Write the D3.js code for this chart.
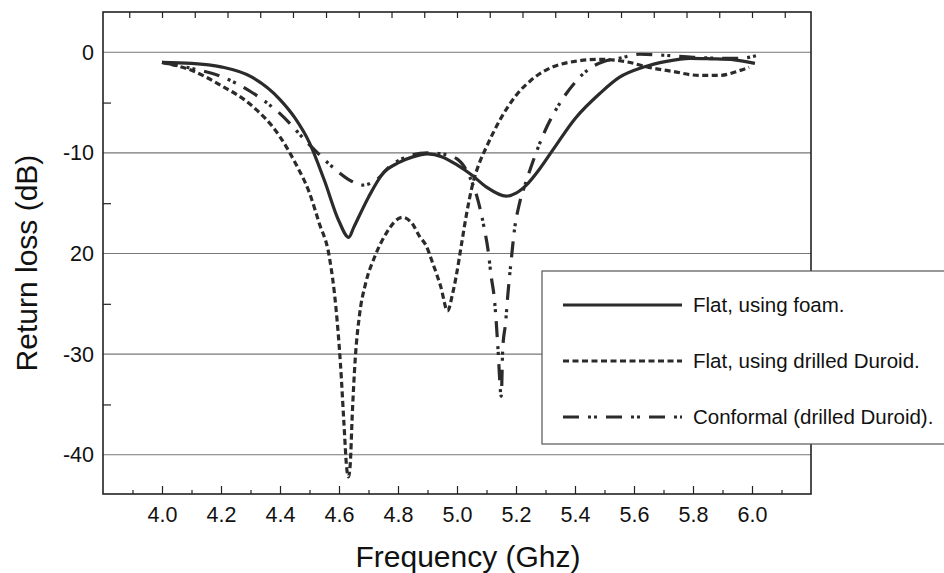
<!DOCTYPE html>
<html>
<head>
<meta charset="utf-8">
<script src="https://d3js.org/d3.v7.min.js"></script>
<style>
  body { margin: 0; background: white; }
  svg text { font-family: "Liberation Sans", Arial, sans-serif; fill: #111; }
</style>
</head>
<body>
<div id="chart"></div>
<script>
// Data (frequency in GHz, return loss in dB)
var foamFreq = [4.0, 4.1, 4.2, 4.3, 4.4, 4.45, 4.5, 4.55, 4.6, 4.633, 4.65, 4.7, 4.75, 4.8, 4.85, 4.9, 4.95, 5.0, 5.05, 5.1, 5.167, 5.2, 5.235, 5.28, 5.325, 5.4, 5.484, 5.55, 5.63, 5.71, 5.79, 5.86, 5.94, 6.01];
var foamLoss = [-1.0, -1.1, -1.45, -2.4, -4.7, -6.5, -9.0, -12.7, -16.8, -18.4, -17.4, -14.4, -12.0, -11.0, -10.4, -10.1, -10.4, -11.2, -12.2, -13.4, -14.3, -14.0, -13.2, -11.6, -9.7, -6.6, -4.1, -2.5, -1.5, -0.9, -0.6, -0.65, -0.75, -1.1];

var duroidFreq = [4.0, 4.1, 4.2, 4.3, 4.4, 4.45, 4.5, 4.533, 4.567, 4.59, 4.605, 4.617, 4.626, 4.632, 4.638, 4.645, 4.655, 4.67, 4.69, 4.72, 4.76, 4.815, 4.85, 4.873, 4.895, 4.917, 4.945, 4.968, 4.985, 4.997, 5.014, 5.031, 5.054, 5.076, 5.1, 5.15, 5.2, 5.25, 5.3, 5.4, 5.484, 5.575, 5.65, 5.73, 5.82, 5.89, 5.96, 5.99];
var duroidLoss = [-1.0, -1.8, -3.3, -5.2, -8.4, -10.9, -14.0, -17.0, -20.3, -25.5, -31.0, -37.0, -41.3, -42.2, -41.0, -36.0, -30.5, -26.0, -23.0, -20.4, -18.0, -16.4, -17.1, -18.3, -19.2, -20.9, -23.3, -25.7, -24.0, -22.3, -19.3, -16.3, -13.0, -11.0, -9.4, -6.5, -4.3, -2.8, -1.8, -0.9, -0.7, -0.95, -1.5, -1.9, -2.3, -2.3, -1.8, -1.5];

var conformalFreq = [4.0, 4.1, 4.2, 4.3, 4.4, 4.5, 4.57, 4.63, 4.68, 4.73, 4.77, 4.82, 4.9, 4.95, 5.0, 5.04, 5.07, 5.093, 5.105, 5.116, 5.127, 5.133, 5.139, 5.15, 5.155, 5.165, 5.172, 5.184, 5.195, 5.212, 5.235, 5.263, 5.3, 5.35, 5.4, 5.45, 5.5, 5.55, 5.62, 5.7, 5.8, 5.9, 5.96, 6.02];
var conformalLoss = [-1.0, -1.6, -2.4, -3.9, -6.1, -9.2, -11.2, -12.6, -13.2, -12.6, -11.4, -10.5, -10.0, -10.1, -10.6, -12.2, -14.6, -17.6, -19.6, -22.3, -24.6, -26.8, -29.5, -34.2, -29.5, -26.8, -24.2, -20.6, -17.6, -15.0, -12.8, -10.4, -7.7, -5.0, -3.0, -1.6, -0.9, -0.6, -0.2, -0.3, -0.5, -0.6, -0.6, -0.3];

var seriesNames = ["Flat, using foam.", "Flat, using drilled Duroid.", "Conformal (drilled Duroid)."];

// axis ticks
var xMajorTicks = [4.0, 4.2, 4.4, 4.6, 4.8, 5.0, 5.2, 5.4, 5.6, 5.8, 6.0];
var xMinorTicks = [3.9, 4.1, 4.3, 4.5, 4.7, 4.9, 5.1, 5.3, 5.5, 5.7, 5.9, 6.1];
var topTicks = [3.889, 4.0, 4.111, 4.222, 4.333, 4.444, 4.556, 4.667, 4.778, 4.889, 5.0, 5.111, 5.222, 5.333, 5.444, 5.556, 5.667, 5.778, 5.889, 6.0, 6.111];
var yMajorTicks = [0, -10, -20, -30, -40];
var yTickLabels = ["0", "-10", "20", "-30", "-40"];
var yMinorTicks = [-5, -15, -25, -35];

var width = 944;
var height = 573;
var plotLeft = 103, plotRight = 811, plotTop = 12, plotBottom = 494;

var xScale = d3.scaleLinear().domain([3.8, 6.2]).range([plotLeft, plotRight]);
var yScale = d3.scaleLinear().domain([4, -43.9]).range([plotTop, plotBottom]);

var svg = d3.select("#chart")
            .append("svg")
            .attr("width", width)
            .attr("height", height);

svg.append("rect")
   .attr("width", width)
   .attr("height", height)
   .style("fill", "white");

// horizontal grid lines
svg.append("g")
   .selectAll("line")
   .data(yMajorTicks)
   .enter()
     .append("line")
     .attr("x1", plotLeft)
     .attr("x2", plotRight)
     .attr("y1", function(d) { return yScale(d); })
     .attr("y2", function(d) { return yScale(d); })
     .style("stroke", "#777")
     .style("stroke-width", 1.2);

// bottom axis: major ticks with labels, minor ticks, pointing inward
var bottomAxis = d3.axisBottom(xScale)
                   .tickValues(xMajorTicks)
                   .tickFormat(d3.format(".1f"))
                   .tickSizeInner(-8)
                   .tickSizeOuter(0);
var bottomGroup = svg.append("g")
                     .attr("transform", "translate(0," + plotBottom + ")")
                     .call(bottomAxis);
bottomGroup.select(".domain").remove();
bottomGroup.selectAll("text").style("font-size", "21.5px").attr("y", 13).attr("dy", "0.71em");

var minorAxis = d3.axisBottom(xScale)
                  .tickValues(xMinorTicks)
                  .tickFormat("")
                  .tickSizeInner(-4)
                  .tickSizeOuter(0);
var minorGroup = svg.append("g")
                    .attr("transform", "translate(0," + plotBottom + ")")
                    .call(minorAxis);
minorGroup.select(".domain").remove();

// top axis ticks
var topAxis = d3.axisTop(xScale)
                .tickValues(topTicks)
                .tickFormat("")
                .tickSizeInner(-6)
                .tickSizeOuter(0);
var topGroup = svg.append("g")
                  .attr("transform", "translate(0," + plotTop + ")")
                  .call(topAxis);
topGroup.select(".domain").remove();

// left axis
var leftAxis = d3.axisLeft(yScale)
                 .tickValues(yMajorTicks)
                 .tickFormat(function(d, i) { return yTickLabels[i]; })
                 .tickSizeInner(0)
                 .tickSizeOuter(0)
                 .tickPadding(9);
var leftGroup = svg.append("g")
                   .attr("transform", "translate(" + plotLeft + ",0)")
                   .call(leftAxis);
leftGroup.select(".domain").remove();
leftGroup.selectAll("text").style("font-size", "21.5px");

var leftMinor = d3.axisLeft(yScale)
                  .tickValues(yMinorTicks)
                  .tickFormat("")
                  .tickSizeInner(-8)
                  .tickSizeOuter(0);
var leftMinorGroup = svg.append("g")
                        .attr("transform", "translate(" + plotLeft + ",0)")
                        .call(leftMinor);
leftMinorGroup.select(".domain").remove();

svg.selectAll(".tick line").style("stroke", "#222").style("stroke-width", 1.2);

// plot frame
svg.append("rect")
   .attr("x", plotLeft)
   .attr("y", plotTop)
   .attr("width", plotRight - plotLeft)
   .attr("height", plotBottom - plotTop)
   .style("fill", "none")
   .style("stroke", "#222")
   .style("stroke-width", 1.6);

// curves
var lineGen = d3.line()
                .x(function(d) { return xScale(d[0]); })
                .y(function(d) { return yScale(d[1]); })
                .curve(d3.curveMonotoneX);

var dashes = [null, "6,3.5", "16,9,3,3,3,9"];
var series = [
  d3.zip(foamFreq, foamLoss),
  d3.zip(duroidFreq, duroidLoss),
  d3.zip(conformalFreq, conformalLoss)
];

svg.append("g")
   .selectAll("path")
   .data(series)
   .enter()
     .append("path")
     .attr("d", lineGen)
     .style("fill", "none")
     .style("stroke", "#2b2b2b")
     .style("stroke-width", 3.2)
     .style("stroke-dasharray", function(d, i) { return dashes[i]; });

// legend box, runs off the right side of the picture
var legend = svg.append("g");
legend.append("rect")
      .attr("x", 542)
      .attr("y", 271)
      .attr("width", 420)
      .attr("height", 173)
      .style("fill", "white")
      .style("stroke", "#555")
      .style("stroke-width", 1.2);

var legendRows = legend.selectAll(".row")
                       .data(seriesNames)
                       .enter()
                         .append("g")
                         .attr("transform", function(d, i) { return "translate(0," + (305 + i * 56) + ")"; });

legendRows.append("line")
          .attr("x1", 563)
          .attr("x2", 682)
          .style("stroke", "#2b2b2b")
          .style("stroke-width", 3.2)
          .style("stroke-dasharray", function(d, i) { return dashes[i]; });

legendRows.append("text")
          .attr("x", 693)
          .attr("dy", "0.35em")
          .style("font-size", "20.5px")
          .text(function(d) { return d; });

// axis titles
svg.append("text")
   .attr("x", 468)
   .attr("y", 567)
   .attr("text-anchor", "middle")
   .style("font-size", "30px")
   .text("Frequency (Ghz)");

svg.append("text")
   .attr("transform", "translate(37,263) rotate(-90)")
   .attr("text-anchor", "middle")
   .style("font-size", "30px")
   .text("Return loss (dB)");
</script>
</body>
</html>
